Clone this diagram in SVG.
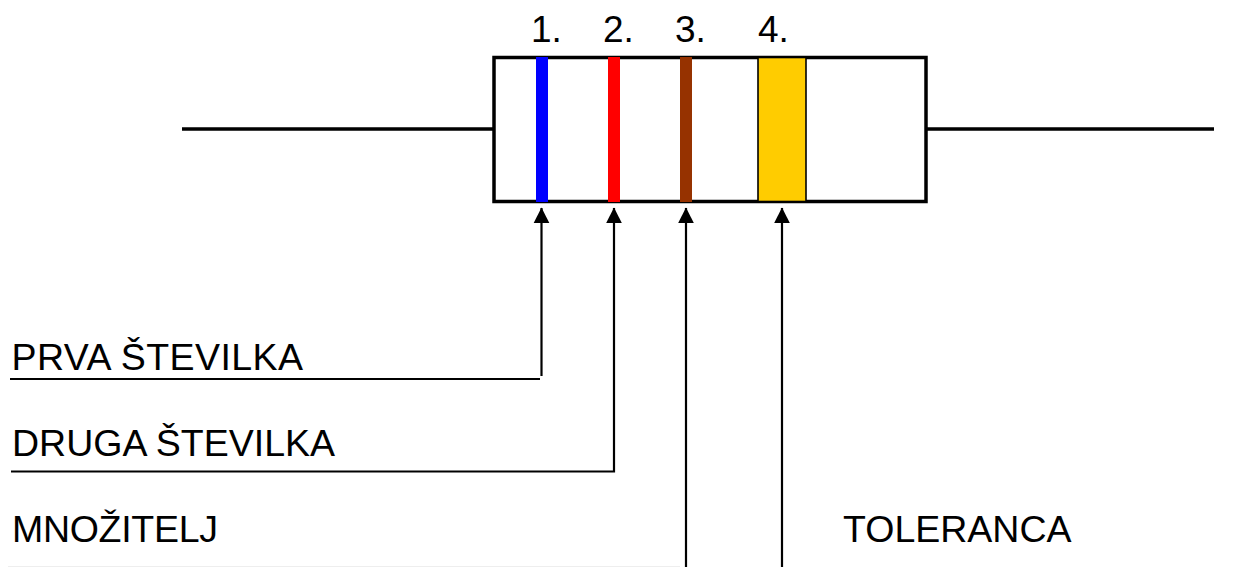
<svg xmlns="http://www.w3.org/2000/svg" width="1255" height="567" viewBox="0 0 1255 567">
<style>
text{font-family:"Liberation Sans",Arial,sans-serif;font-size:37.5px;fill:#000}
.n{font-size:37px}
.w{fill:none;stroke:#000;stroke-width:3.5}
.c{fill:none;stroke:#000;stroke-width:2.2}
</style>
<defs><marker id="a" markerUnits="userSpaceOnUse" markerWidth="16" markerHeight="16" refX="15" refY="8" viewBox="0 0 16 16" orient="auto" overflow="visible"><path d="M0 0.2L15.5 8L0 15.8Z" fill="#000"/></marker></defs>
<rect width="1255" height="567" fill="#fff"/>
<g id="resistor">
<path class="w" d="M182 129H493M926 129H1214"/>
<rect x="494" y="57.5" width="432" height="144" fill="#fff" stroke="#000" stroke-width="3.5"/>
</g>
<g id="band1"><rect x="536" y="57" width="12" height="145" fill="#00f"/><text class="n" x="531" y="42">1.</text></g>
<g id="band2"><rect x="608" y="57" width="12" height="145" fill="#f00"/><text class="n" x="603" y="42">2.</text></g>
<g id="band3"><rect x="680" y="57" width="12" height="145" fill="#963200"/><text class="n" x="675" y="42">3.</text></g>
<g id="band4"><rect x="758" y="57.5" width="48" height="144" fill="#fc0" stroke="#000" stroke-width="1.6"/><text class="n" x="758" y="42">4.</text></g>
<g id="connectors">
<path class="c" marker-end="url(#a)" d="M541.5 376V208"/>
<path class="c" d="M10 379H540"/>
<path class="c" marker-end="url(#a)" d="M11 471.5H614V208"/>
<path class="c" marker-end="url(#a)" d="M686 567V208"/>
<path class="c" marker-end="url(#a)" d="M782 567V208"/>
<path d="M8 566.5H680" fill="none" stroke="#eee" stroke-width="1"/>
</g>
<g id="label1"><text x="11.5" y="369.5" textLength="291.5">PRVA ŠTEVILKA</text></g>
<g id="label2"><text x="12" y="456">DRUGA ŠTEVILKA</text></g>
<g id="label3"><text x="12" y="541.5" textLength="206">MNOŽITELJ</text></g>
<g id="label4"><text x="843" y="541.5">TOLERANCA</text></g>
</svg>
